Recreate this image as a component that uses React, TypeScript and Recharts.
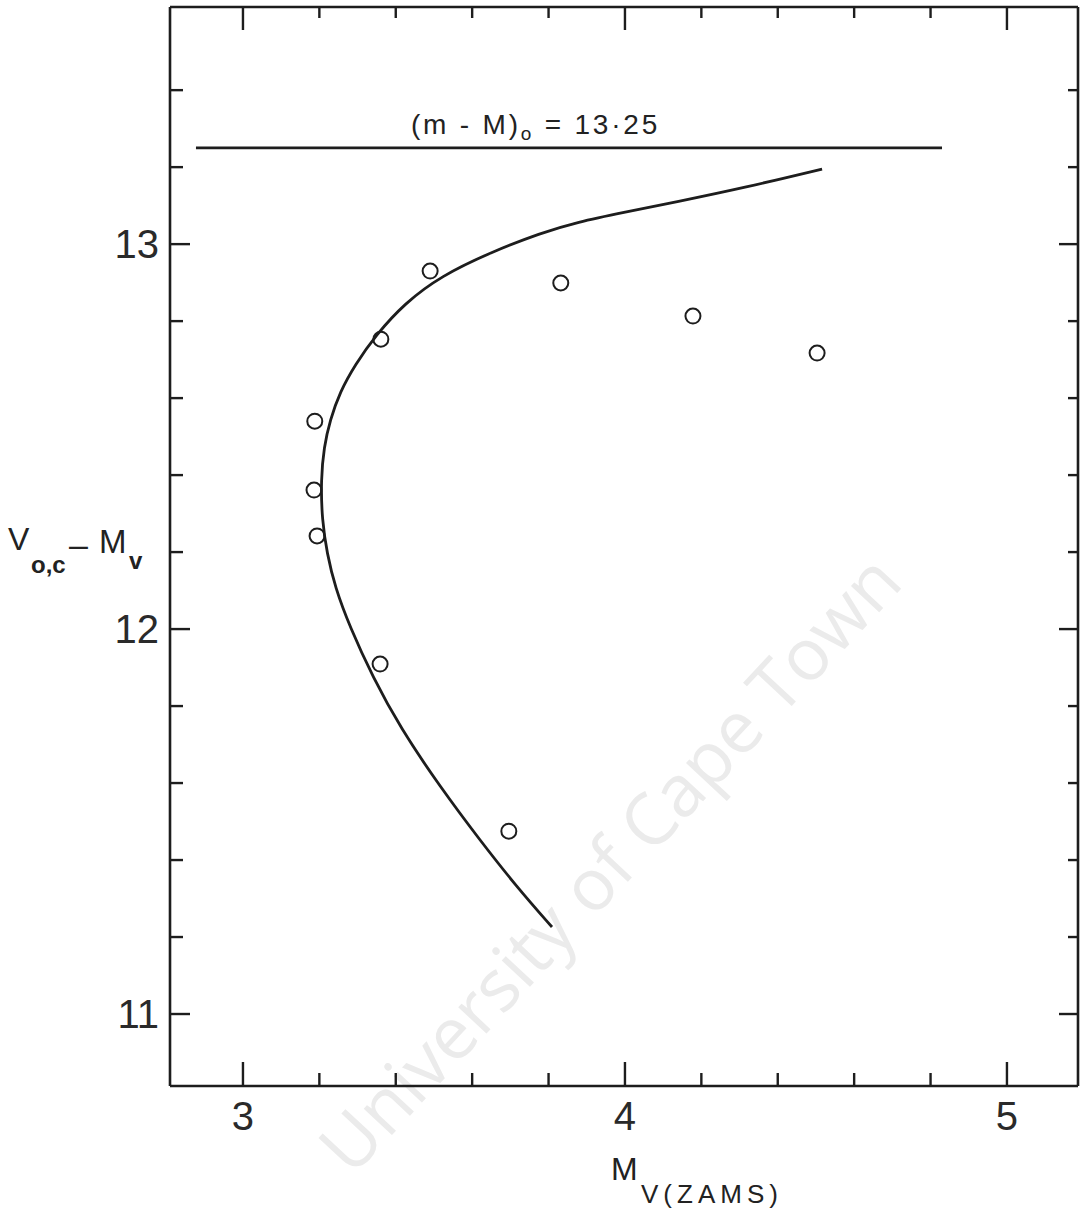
import { ComposedChart, XAxis, YAxis, Line, Scatter } from 'recharts';

const WIDTH = 1082;
const HEIGHT = 1211;
const INK = '#1d1d1d';

// axis ranges (Mv(ZAMS) across, V0,c - Mv up)
const mvDomain = [2.809, 5.186];
const modulusDomain = [10.813, 13.616];
const mvTicks = [3, 3.2, 3.4, 3.6, 3.8, 4, 4.2, 4.4, 4.6, 4.8, 5];
const modulusTicks = [11, 11.2, 11.4, 11.6, 11.8, 12, 12.2, 12.4, 12.6, 12.8, 13, 13.2, 13.4];

// cluster stars
const starMv = [3.188, 3.186, 3.194, 3.361, 3.359, 3.49, 3.832, 4.178, 4.503, 3.696];
const starModulus = [12.54, 12.361, 12.242, 12.753, 11.909, 12.93, 12.899, 12.813, 12.717, 11.475];

// fitted curve, bottom end to top end
const curveMv = [
	3.809, 3.717, 3.62, 3.516, 3.411, 3.34, 3.28, 3.241, 3.22, 3.207, 3.204, 3.212,
	3.228, 3.254, 3.293, 3.348, 3.424, 3.518, 3.649, 3.78, 3.874, 4.0, 4.131, 4.319, 4.516,
];
const curveModulus = [
	11.226, 11.33, 11.452, 11.59, 11.745, 11.875, 12.005, 12.109, 12.197, 12.283, 12.387, 12.473,
	12.543, 12.616, 12.686, 12.764, 12.847, 12.917, 12.979, 13.029, 13.057, 13.083, 13.109, 13.148, 13.195,
];

// true distance modulus and the extent of its line
const trueModulus = 13.25;
const trueModulusMv = [2.877, 4.83];

const stars = starMv.map((mv, i) => ({ mv, mod: starModulus[i] }));
const curve = curveMv.map((mv, i) => ({ mv, mod: curveModulus[i] }));
const modulusLine = trueModulusMv.map((mv) => ({ mv, mod: trueModulus }));

const isMajor = (v: number) => Math.abs(v - Math.round(v)) < 1e-6;

// ticks point into the frame; only whole numbers get a label
function FrameTick({ x, y, payload, side }: any) {
	const major = isMajor(payload.value);
	const lens: Record<string, [number, number]> = {
		bottom: [24, 13],
		top: [23, 11],
		left: [20, 13],
		right: [19, 10],
	};
	const len = lens[side][major ? 0 : 1];
	let tick;
	if (side === 'bottom') tick = <line x1={x} x2={x} y1={y} y2={y - len} />;
	else if (side === 'top') tick = <line x1={x} x2={x} y1={y} y2={y + len} />;
	else if (side === 'left') tick = <line x1={x} x2={x + len} y1={y} y2={y} />;
	else tick = <line x1={x} x2={x - len} y1={y} y2={y} />;

	return (
		<g>
			<g stroke={INK} strokeWidth={2.4}>{tick}</g>
			{major && side === 'bottom' && (
				<text x={x} y={y + 44} textAnchor="middle" fontSize={40} fill="#2a2a2a">
					{payload.value}
				</text>
			)}
			{major && side === 'left' && (
				<text x={x - 11} y={y + 14} textAnchor="end" fontSize={40} fill="#2a2a2a">
					{payload.value}
				</text>
			)}
		</g>
	);
}

const OpenCircle = ({ cx, cy }: any) => (
	<circle cx={cx} cy={cy} r={7.5} fill="none" stroke={INK} strokeWidth={2} />
);

const axisLine = { stroke: INK, strokeWidth: 2.6 };

export default function App() {
	const modulusText = String(trueModulus).replace('.', '\u00b7');
	return (
		<div
			style={{
				position: 'absolute',
				left: 0,
				top: 0,
				width: WIDTH,
				height: HEIGHT,
				background: '#fff',
				fontFamily: '"Liberation Sans", Arial, sans-serif',
			}}
		>
			<svg
				width={WIDTH}
				height={HEIGHT}
				style={{ position: 'absolute', left: 0, top: 0 }}
				fontFamily='"Liberation Sans", Arial, sans-serif'
			>
				{/* faint archive stamp across the plot */}
				<text
					x={608}
					y={862}
					transform="rotate(-47 608 862)"
					textAnchor="middle"
					dominantBaseline="central"
					fontSize={72}
					fill="#ebebeb"
					fontFamily='"Open Sans", sans-serif'
				>
					University of Cape Town
				</text>

				{/* y-axis title */}
				<g fill="#222">
					<text x={8} y={550} fontSize={32}>V</text>
					<text x={31} y={573} fontSize={24} fontWeight="bold">o,c</text>
					<text x={69} y={556} fontSize={34}>–</text>
					<text x={99} y={553} fontSize={33}>M</text>
					<text x={129} y={569} fontSize={24} fontWeight="bold">v</text>
				</g>

				{/* x-axis title */}
				<g fill="#222">
					<text x={611} y={1180} fontSize={32}>M</text>
					<text x={641} y={1203} fontSize={26} letterSpacing={5}>V(ZAMS)</text>
				</g>

				{/* distance modulus label */}
				<text x={411} y={134} fontSize={28} fill="#222" letterSpacing={2.8}>
					(m - M)
					<tspan fontSize={19} dy={6}>o</tspan>
					<tspan dy={-6}> = {modulusText}</tspan>
				</text>
			</svg>

			<div style={{ position: 'absolute', left: 0, top: 0 }}>
				<ComposedChart
					width={WIDTH}
					height={HEIGHT}
					margin={{ top: 6, right: 3, bottom: 0, left: 0 }}
				>
					<XAxis
						xAxisId="bottom"
						type="number"
						dataKey="mv"
						domain={mvDomain}
						allowDataOverflow
						ticks={mvTicks}
						interval={0}
						height={125}
						tickSize={0}
						tickMargin={0}
						tickLine={false}
						axisLine={axisLine}
						tick={(p: any) => <FrameTick {...p} side="bottom" />}
					/>
					<XAxis
						xAxisId="top"
						orientation="top"
						type="number"
						dataKey="mv"
						domain={mvDomain}
						allowDataOverflow
						ticks={mvTicks}
						interval={0}
						height={1}
						tickSize={0}
						tickMargin={0}
						tickLine={false}
						axisLine={axisLine}
						tick={(p: any) => <FrameTick {...p} side="top" />}
					/>
					<YAxis
						yAxisId="left"
						type="number"
						dataKey="mod"
						domain={modulusDomain}
						allowDataOverflow
						ticks={modulusTicks}
						interval={0}
						width={170}
						tickSize={0}
						tickMargin={0}
						tickLine={false}
						axisLine={axisLine}
						tick={(p: any) => <FrameTick {...p} side="left" />}
					/>
					<YAxis
						yAxisId="right"
						orientation="right"
						type="number"
						dataKey="mod"
						domain={modulusDomain}
						allowDataOverflow
						ticks={modulusTicks}
						interval={0}
						width={1}
						tickSize={0}
						tickMargin={0}
						tickLine={false}
						axisLine={axisLine}
						tick={(p: any) => <FrameTick {...p} side="right" />}
					/>

					<Line
						xAxisId="bottom"
						yAxisId="left"
						data={modulusLine}
						dataKey="mod"
						type="linear"
						stroke={INK}
						strokeWidth={2.6}
						dot={false}
						isAnimationActive={false}
					/>
					<Line
						xAxisId="bottom"
						yAxisId="left"
						data={curve}
						dataKey="mod"
						type="basis"
						stroke={INK}
						strokeWidth={2.8}
						dot={false}
						isAnimationActive={false}
					/>
					<Scatter
						xAxisId="bottom"
						yAxisId="left"
						data={stars}
						dataKey="mod"
						shape={OpenCircle}
						isAnimationActive={false}
					/>
				</ComposedChart>
			</div>
		</div>
	);
}
